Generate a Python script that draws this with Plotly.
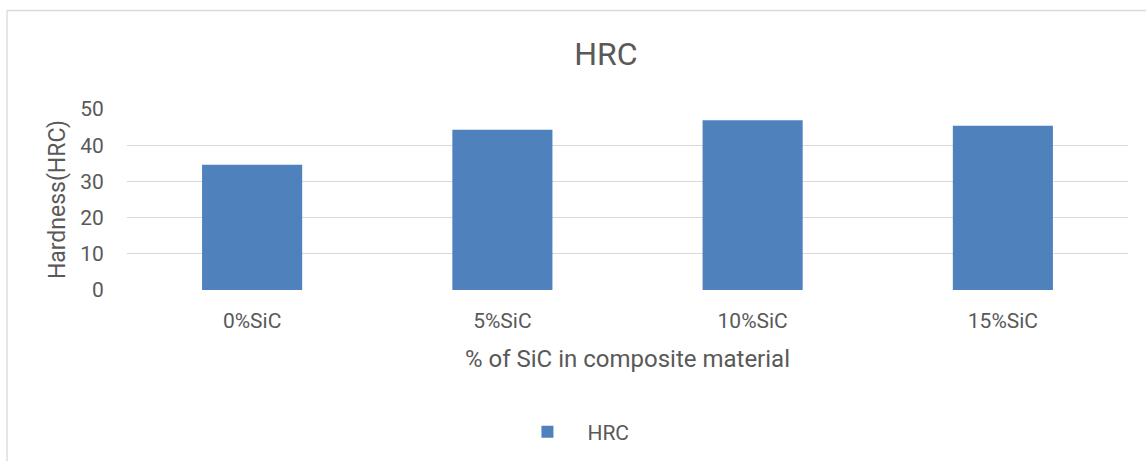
import plotly.graph_objects as go

# Rockwell hardness of the composite at each SiC fraction
categories = ["0%SiC", "5%SiC", "10%SiC", "15%SiC"]
hrc_values = [34.6, 44.3, 46.9, 45.4]
y_ticks = [0, 10, 20, 30, 40, 50]

BAR = "#4f81bd"
TEXT = "#595959"
GRID = "#d9d9d9"
FONT = "Roboto, Liberation Sans, Arial, sans-serif"

fig = go.Figure(
    go.Bar(
        x=categories,
        y=hrc_values,
        name="HRC",
        marker=dict(color=BAR, line=dict(width=0)),
        width=0.4,
        showlegend=True,
    )
)

W, H = 1146, 461
ml, mr, mt, mb = 127, 18, 109, 171
ph = H - mt - mb
pw = W - ml - mr
y0_px = H - mb  # pixel row of the value 0

fig.update_layout(
    width=W,
    height=H,
    margin=dict(l=ml, r=mr, t=mt, b=mb, pad=0, autoexpand=False),
    paper_bgcolor="white",
    plot_bgcolor="white",
    font=dict(family=FONT, color=TEXT, size=21),
    title=dict(
        text="HRC",
        font=dict(size=32, color=TEXT, family=FONT),
        x=0.4785,
        xanchor="center",
        xref="paper",
        y=1 - 54 / H,
        yanchor="middle",
        yref="container",
    ),
    xaxis=dict(
        showgrid=False,
        showline=False,
        zeroline=False,
        ticks="outside",
        ticklen=12,
        tickcolor="rgba(0,0,0,0)",
        tickfont=dict(size=21, color=TEXT),
        title=dict(
            text="% of SiC in composite material",
            font=dict(size=24, color=TEXT),
            standoff=17,
        ),
    ),
    yaxis=dict(
        range=[0, 50],
        tickvals=y_ticks,
        showgrid=True,
        gridcolor=GRID,
        gridwidth=1.3,
        showline=False,
        zeroline=False,
        ticks="outside",
        ticklen=18,
        tickcolor="rgba(0,0,0,0)",
        tickfont=dict(size=21, color=TEXT),
        title=dict(
            text="Hardness(HRC)",
            font=dict(size=23, color=TEXT),
            standoff=8,
        ),
    ),
    legend=dict(
        orientation="h",
        x=0.4435,
        xanchor="center",
        y=(y0_px - 432) / ph,
        yanchor="middle",
        font=dict(size=21, color=TEXT),
        itemwidth=70,
        bgcolor="rgba(0,0,0,0)",
    ),
    bargap=0.6,
    shapes=[
        # chart-area frame: top and left edges
        dict(type="line", xref="paper", yref="paper",
             x0=(7 - ml) / pw, x1=(W - ml) / pw,
             y0=(y0_px - 10.5) / ph, y1=(y0_px - 10.5) / ph,
             line=dict(color=GRID, width=1.3)),
        dict(type="line", xref="paper", yref="paper",
             x0=(7 - ml) / pw, x1=(7 - ml) / pw,
             y0=(y0_px - 10.5) / ph, y1=(y0_px - H - 5) / ph,
             line=dict(color=GRID, width=1.3)),
    ],
)

fig.write_html("out.html")
